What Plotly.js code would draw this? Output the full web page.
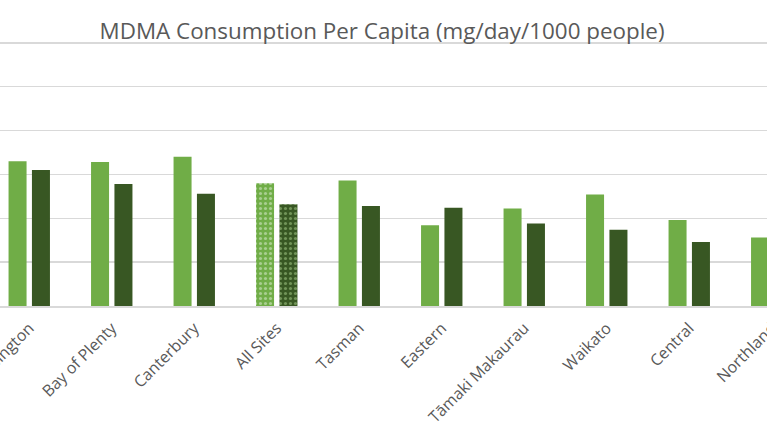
<!DOCTYPE html>
<html>
<head>
<meta charset="utf-8">
<script src="https://cdn.plot.ly/plotly-3.0.1.min.js"></script>
<style>
  html, body { margin: 0; padding: 0; overflow: hidden; background: #fff; }
  #chart { position: absolute; left: -72.45px; top: 0; width: 905px; height: 431px; }
</style>
</head>
<body>
<div id="chart"></div>
<script>
// regions, left to right
var regions = ['Wellington', 'Bay of Plenty', 'Canterbury', 'All Sites', 'Tasman',
  'Eastern', 'T\u0101maki Makaurau', 'Waikato', 'Central', 'Northland'];

// values (mg/day/1000 people, estimated)
var period1 = [16.5, 16.4, 17.0, 14.0, 14.3, 9.2, 11.1, 12.7, 9.8, 7.8];
var period2 = [15.5, 13.9, 12.8, 11.6, 11.4, 11.2, 9.4, 8.7, 7.3, 6.0];

var lightGreen = '#70ad47';
var darkGreen = '#385723';

// "All Sites" gets the dotted fill
function shapes() {
  return regions.map(function (r) { return r == 'All Sites' ? '.' : ''; });
}

var trace1 = {
  x: regions,
  y: period1,
  name: 'Period 1',
  type: 'bar',
  marker: {
    color: lightGreen,
    pattern: { shape: shapes(), bgcolor: lightGreen, fgcolor: '#e2f0d9',
      fillmode: 'overlay', size: 5, solidity: 0.3 }
  }
};

var trace2 = {
  x: regions,
  y: period2,
  name: 'Period 2',
  type: 'bar',
  marker: {
    color: darkGreen,
    pattern: { shape: shapes(), bgcolor: darkGreen, fgcolor: '#a9d18e',
      fillmode: 'overlay', size: 5, solidity: 0.3 }
  }
};

var layout = {
  width: 905,
  height: 431,
  margin: { l: 60, r: 20, t: 41.25, b: 125 },
  paper_bgcolor: '#fff',
  plot_bgcolor: '#fff',
  showlegend: false,
  barmode: 'group',
  bargap: 0.433,
  bargroupgap: 0.23,
  font: { family: 'Open Sans, sans-serif', color: '#595959' },
  title: {
    text: 'MDMA Consumption Per Capita (mg/day/1000 people)',
    font: { family: 'Open Sans, sans-serif', size: 22.4, color: '#595959' },
    xref: 'container', x: 0.5017, xanchor: 'center',
    yref: 'container', y: 0.928, yanchor: 'middle'
  },
  xaxis: {
    type: 'category',
    range: [-0.5, 9.5],
    tickangle: -45,
    tickfont: { size: 16, color: '#595959' },
    ticklabelstandoff: 5,
    showline: true,
    linecolor: '#d9d9d9',
    linewidth: 1.5,
    ticks: ''
  },
  yaxis: {
    range: [0, 30.2],
    dtick: 5,
    showgrid: true,
    gridcolor: '#d9d9d9',
    gridwidth: 1.5,
    zeroline: false,
    showticklabels: false
  }
};

Plotly.newPlot('chart', [trace1, trace2], layout, { displayModeBar: false, staticPlot: true });
</script>
</body>
</html>
